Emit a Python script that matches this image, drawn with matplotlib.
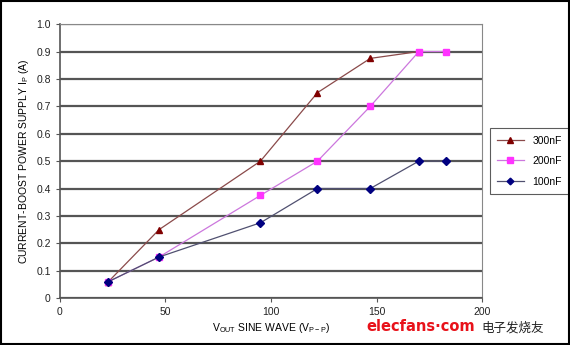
import numpy as np
import matplotlib.pyplot as plt
from matplotlib.patches import Rectangle

plt.rcParams['font.family'] = ['Liberation Sans', 'Noto Sans CJK SC', 'DejaVu Sans']

# measured points, Vout (Vp-p) vs Ip (A)
v_300 = [23, 47, 95, 122, 147, 170]
ip_300 = [0.06, 0.25, 0.5, 0.75, 0.875, 0.9]
v_200 = [23, 47, 95, 122, 147, 170, 183]
ip_200 = [0.06, 0.15, 0.375, 0.5, 0.7, 0.9, 0.9]
v_100 = [23, 47, 95, 122, 147, 170, 183]
ip_100 = [0.06, 0.15, 0.275, 0.4, 0.4, 0.5, 0.5]

xticks = [0, 50, 100, 150, 200]
yticks = np.round(np.arange(0, 1.01, 0.1), 1)
ylabels = ['0'] + ['%.1f' % t for t in yticks[1:]]

fig = plt.figure(figsize=(5.7, 3.45), dpi=100)
ax = fig.add_axes([0.105, 0.136, 0.741, 0.794])

ax.plot(v_300, ip_300, color='#8a4a4a', lw=0.9, marker='^', ms=5,
        mfc='#800000', mec='#800000', label='300nF', zorder=3)
ax.plot(v_200, ip_200, color='#cc77dd', lw=0.9, marker='s', ms=5,
        mfc='#ff33ff', mec='#ff33ff', label='200nF', zorder=4)
ax.plot(v_100, ip_100, color='#505070', lw=0.9, marker='D', ms=4,
        mfc='#000080', mec='#000080', label='100nF', zorder=5)

ax.set_xlim(0, 200)
ax.set_ylim(0, 1.0)
ax.set_xticks(xticks)
ax.set_yticks(yticks)
ax.set_yticklabels(ylabels)
ax.yaxis.grid(True, color='#555555', lw=1.6)
ax.set_axisbelow(True)
ax.tick_params(labelsize=7.5, length=3, color='#555555', colors='#222222')
for s in ['top', 'right']:
    ax.spines[s].set_color('#888888')
for s in ['left', 'bottom']:
    ax.spines[s].set_color('#555555')
    ax.spines[s].set_linewidth(1.2)

ax.set_ylabel(r'CURRENT-BOOST POWER SUPPLY I$_{\mathregular{P}}$ (A)', fontsize=7.5)
ax.set_xlabel(r'V$_{\mathregular{OUT}}$ SINE WAVE (V$_{\mathregular{P-P}}$)', fontsize=7.5, labelpad=3)

leg = ax.legend(loc='center left', bbox_to_anchor=(1.005, 0.5), fontsize=7.5,
                frameon=True, fancybox=False, edgecolor='#333333',
                handlelength=2.6, borderpad=0.7, labelspacing=1.0, markerscale=0.85)
leg.get_frame().set_linewidth(0.8)

# site watermark
fig.text(0.642, 0.04, 'elecfans\u00b7com', color='#e8121a', fontsize=10.5,
         fontweight='bold', family='DejaVu Sans')
fig.text(0.845, 0.04, '电子发烧友', color='#222222', fontsize=9,
         family=['Noto Sans CJK SC', 'DejaVu Sans'])

fig.patches.append(Rectangle((0.001, 0.002), 0.997, 0.995, transform=fig.transFigure,
                             fill=False, edgecolor='black', lw=1.5))

fig.savefig('out.png', dpi=100)
